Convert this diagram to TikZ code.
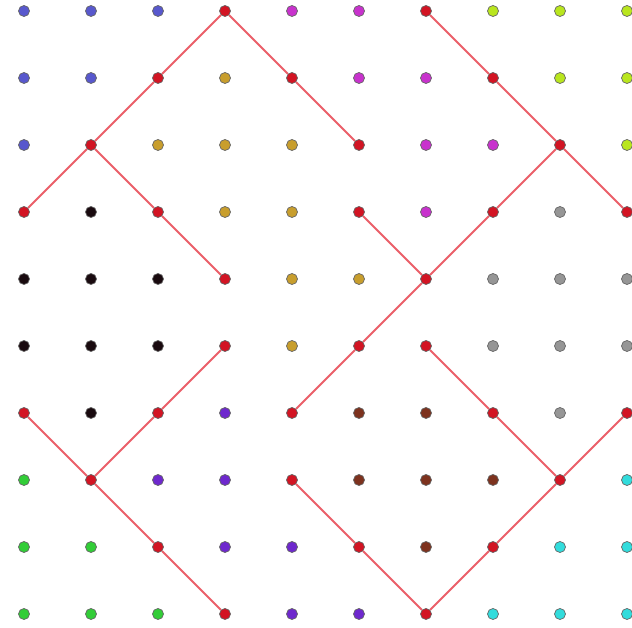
\documentclass[tikz,border=0pt]{standalone}
\usepackage{tikz}
\usetikzlibrary{calc}

\definecolor{bl}{RGB}{88,88,205}
\definecolor{mg}{RGB}{200,50,205}
\definecolor{yg}{RGB}{185,230,30}
\definecolor{gd}{RGB}{200,158,45}
\definecolor{bk}{RGB}{25,10,15}
\definecolor{gy}{RGB}{150,150,150}
\definecolor{rd}{RGB}{210,20,35}
\definecolor{pu}{RGB}{110,40,205}
\definecolor{br}{RGB}{125,50,30}
\definecolor{gn}{RGB}{50,205,55}
\definecolor{cy}{RGB}{50,220,220}
\definecolor{lnk}{RGB}{235,95,105}

\begin{document}
\begin{tikzpicture}[x=1pt, y=-1pt,
  dot/.style={circle, draw=black!60, line width=0.7pt, minimum size=11pt,
              inner sep=0pt},
  edge/.style={draw=lnk, line width=2pt}]
  \useasboundingbox (0,0) rectangle (632,628);
  \clip (0,0) rectangle (632,628);
  \fill[white] (0,0) rectangle (632,628);

  % grid of dots, one row per entry
  \foreach \row [count=\r from 0] in {
      {bl,bl,bl,rd,mg,mg,rd,yg,yg,yg},
      {bl,bl,rd,gd,rd,mg,mg,rd,yg,yg},
      {bl,rd,gd,gd,gd,rd,mg,mg,rd,yg},
      {rd,bk,rd,gd,gd,rd,mg,rd,gy,rd},
      {bk,bk,bk,rd,gd,gd,rd,gy,gy,gy},
      {bk,bk,bk,rd,gd,rd,rd,gy,gy,gy},
      {rd,bk,rd,pu,rd,br,br,rd,gy,rd},
      {gn,rd,pu,pu,rd,br,br,br,rd,cy},
      {gn,gn,rd,pu,pu,rd,br,rd,cy,cy},
      {gn,gn,gn,rd,pu,pu,rd,cy,cy,cy}}
    \foreach \col [count=\c from 0] in \row
      \node[dot, fill=\col] (p-\c-\r) at (24+67*\c, 11+67*\r) {};

  % zigzag paths
  \draw[edge] (p-0-3) -- (p-1-2) -- (p-2-1) -- (p-3-0) -- (p-4-1) -- (p-5-2);
  \draw[edge] (p-1-2) -- (p-2-3) -- (p-3-4);
  \draw[edge] (p-6-0) -- (p-7-1) -- (p-8-2) -- (p-9-3);
  \draw[edge] (p-8-2) -- (p-7-3) -- (p-6-4) -- (p-5-5) -- (p-4-6);
  \draw[edge] (p-5-3) -- (p-6-4);
  \draw[edge] (p-0-6) -- (p-1-7) -- (p-2-8) -- (p-3-9);
  \draw[edge] (p-1-7) -- (p-2-6) -- (p-3-5);
  \draw[edge] (p-6-5) -- (p-7-6) -- (p-8-7) -- (p-9-6);
  \draw[edge] (p-4-7) -- (p-5-8) -- (p-6-9) -- (p-7-8) -- (p-8-7);
\end{tikzpicture}
\end{document}
